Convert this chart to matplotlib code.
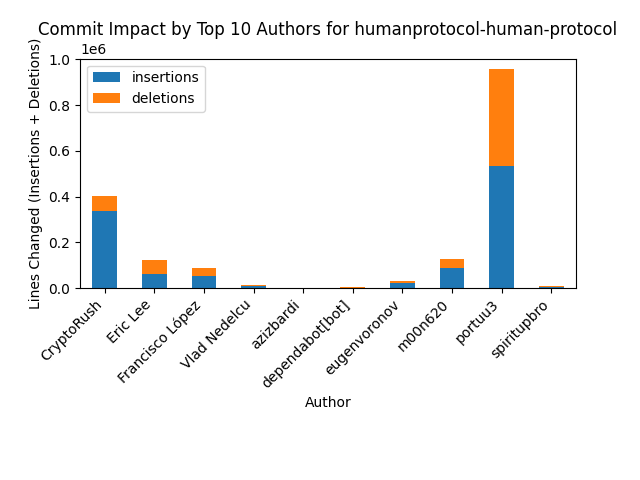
import matplotlib
matplotlib.use("Agg")
import matplotlib.pyplot as plt
import pandas as pd

authors = ["CryptoRush", "Eric Lee", "Francisco López", "Vlad Nedelcu", "azizbardi",
           "dependabot[bot]", "eugenvoronov", "m00n620", "portuu3", "spiritupbro"]
insertions = [336000, 61000, 52000, 10000, 0, 300, 22000, 87000, 533000, 4000]
deletions = [66000, 61000, 35000, 3000, 0, 3000, 8000, 40000, 423000, 5000]

df = pd.DataFrame({"insertions": insertions, "deletions": deletions}, index=authors)
fig, ax = plt.subplots(figsize=(6.4, 4.8), dpi=100)
fig.subplots_adjust(left=0.125, right=0.9, top=0.878, bottom=0.4)
df.plot(kind="bar", stacked=True, ax=ax)
ax.set_title("Commit Impact by Top 10 Authors for humanprotocol-human-protocol")
ax.set_xlabel("Author")
ax.set_ylabel("Lines Changed (Insertions + Deletions)")
plt.xticks(rotation=45, ha="right")
fig.savefig("out.png")
